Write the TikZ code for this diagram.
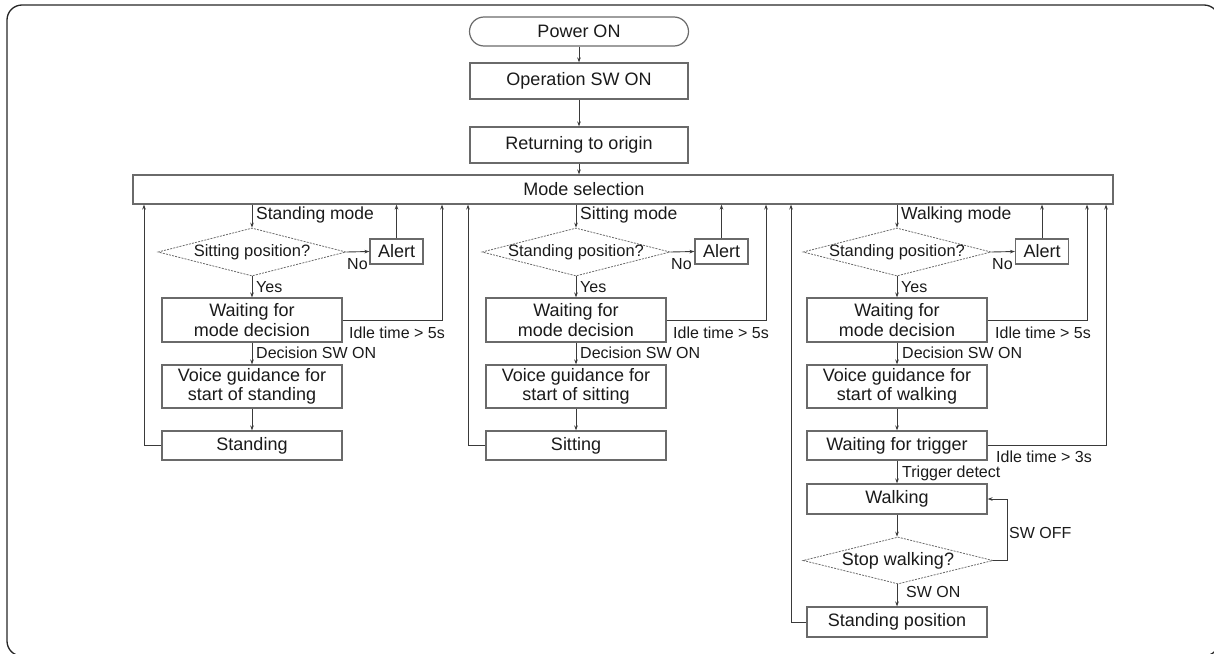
\documentclass[tikz,border=0pt]{standalone}
\usepackage{fontspec}
\setmainfont{Liberation Sans}
\usetikzlibrary{shapes.geometric,arrows.meta}
\definecolor{boxgray}{HTML}{6A6A6A}
\definecolor{linegray}{HTML}{3A3A3A}
\definecolor{txtgray}{HTML}{1A1A1A}
\begin{document}
\begin{tikzpicture}[x=1pt,y=-1pt,
  box/.style={draw=boxgray, line width=1.2pt, fill=white, inner sep=0pt, align=center,
    text=txtgray, font=\fontsize{18}{19.5}\selectfont},
  term/.style={box, rounded corners=14.5pt},
  dia/.style={diamond, draw=boxgray, dash pattern=on 2pt off 1.2pt, line width=0.8pt,
    inner sep=0pt, text=txtgray, font=\fontsize{16.5}{18}\selectfont},
  lbl/.style={anchor=west, inner sep=0pt, text=txtgray, font=\fontsize{16}{18}\selectfont},
  mlbl/.style={lbl, font=\fontsize{17.5}{19}\selectfont},
  plain/.style={inner sep=0pt, text=txtgray, font=\fontsize{18}{19.5}\selectfont},
  arr/.style={draw=linegray, line width=0.9pt, -{Stealth[length=5pt,width=3.6pt]}},
  frame/.style={draw=black!85, line width=1.3pt, rounded corners=15pt}
]
\useasboundingbox (0,0) rectangle (1214,653);
\clip (0,0) rectangle (1214,653);
\draw[frame] (7,5) rectangle (1219,656);

% top stack
\node[term, minimum width=219, minimum height=29] (pw) at (579,31.5) {Power ON};
\node[box, minimum width=218, minimum height=36] (op) at (579,81) {Operation SW ON};
\node[box, minimum width=218, minimum height=36] (ro) at (579,145) {Returning to origin};
\node[box, minimum width=980, minimum height=29] (ms) at (623,189.5) {};
\node[plain] (mst) at (584,189.5) {Mode selection};

\draw[arr] (pw) -- (op);
\draw[arr] (op) -- (ro);
\draw[arr] (ro) -- (ro.south |- ms.north);

% return-line coordinates
\coordinate (la) at (144,0);
\coordinate (ia) at (442,0);
\coordinate (lb) at (468,0);
\coordinate (ib) at (766,0);
\coordinate (lc) at (791,0);
\coordinate (ic) at (1087,0);
\coordinate (i3) at (1106,0);
\coordinate (so) at (1007,499);

% ---------- Standing column ----------
\node[dia, minimum width=188, minimum height=48] (da) at (252,252) {\makebox[0pt]{Sitting position?}};
\node[box, minimum width=53, minimum height=25] (aa) at (396.5,251.5) {Alert};
\node[box, minimum width=180, minimum height=44] (wa) at (252,320) {Waiting for\\mode decision};
\node[box, minimum width=180, minimum height=43] (va) at (252,386.5) {Voice guidance for\\start of standing};
\node[box, minimum width=180, minimum height=29] (sa) at (252,445.5) {Standing};

\draw[arr] (da.north |- ms.south) -- (da.north);
\draw[arr] (da.east) -- (aa.west);
\draw[arr] (aa.north) -- (aa.north |- ms.south);
\draw[arr] (da.south) -- (wa.north);
\draw[arr] (wa.east) -| (ia |- ms.south);
\draw[arr] (wa) -- (va);
\draw[arr] (va) -- (sa);
\draw[arr] (sa.west) -| (la |- ms.south);

\node[mlbl] (tsa) at (256,215) {Standing mode};
\node[lbl] (noa) at (347,264) {No};
\node[lbl] (yea) at (256,287) {Yes};
\node[lbl] (ida) at (349,333) {Idle time > 5s};
\node[lbl] (dea) at (256,353) {Decision SW ON};

% ---------- Sitting column ----------
\node[dia, minimum width=188, minimum height=48] (db) at (576,252) {\makebox[0pt]{Standing position?}};
\node[box, minimum width=53, minimum height=25] (ab) at (721.5,251.5) {Alert};
\node[box, minimum width=180, minimum height=44] (wb) at (576,320) {Waiting for\\mode decision};
\node[box, minimum width=180, minimum height=43] (vb) at (576,386.5) {Voice guidance for\\start of sitting};
\node[box, minimum width=180, minimum height=29] (sb) at (576,445.5) {Sitting};

\draw[arr] (db.north |- ms.south) -- (db.north);
\draw[arr] (db.east) -- (ab.west);
\draw[arr] (ab.north) -- (ab.north |- ms.south);
\draw[arr] (db.south) -- (wb.north);
\draw[arr] (wb.east) -| (ib |- ms.south);
\draw[arr] (wb) -- (vb);
\draw[arr] (vb) -- (sb);
\draw[arr] (sb.west) -| (lb |- ms.south);

\node[mlbl] (tsb) at (580,215) {Sitting mode};
\node[lbl] (nob) at (671,264) {No};
\node[lbl] (yeb) at (580,287) {Yes};
\node[lbl] (idb) at (673,333) {Idle time > 5s};
\node[lbl] (deb) at (580,353) {Decision SW ON};

% ---------- Walking column ----------
\node[dia, minimum width=188, minimum height=48] (dc) at (897,252) {\makebox[0pt]{Standing position?}};
\node[box, minimum width=53, minimum height=25] (ac) at (1042,251.5) {Alert};
\node[box, minimum width=180, minimum height=44] (wc) at (897,320) {Waiting for\\mode decision};
\node[box, minimum width=180, minimum height=43] (vc) at (897,386.5) {Voice guidance for\\start of walking};
\node[box, minimum width=180, minimum height=29] (wt) at (897,445.5) {Waiting for trigger};
\node[box, minimum width=180, minimum height=30] (wk) at (897,499) {Walking};
\node[dia, minimum width=190, minimum height=47, font=\fontsize{18}{19.5}\selectfont] (sw) at (898,560.5) {\makebox[0pt]{Stop walking?}};
\node[box, minimum width=180, minimum height=30] (sp) at (897,622) {Standing position};

\draw[arr] (dc.north |- ms.south) -- (dc.north);
\draw[arr] (dc.east) -- (ac.west);
\draw[arr] (ac.north) -- (ac.north |- ms.south);
\draw[arr] (dc.south) -- (wc.north);
\draw[arr] (wc.east) -| (ic |- ms.south);
\draw[arr] (wc) -- (vc);
\draw[arr] (vc) -- (wt);
\draw[arr] (wt.east) -| (i3 |- ms.south);
\draw[arr] (wt) -- (wk);
\draw[arr] (wk.south) -- (wk.south |- sw.north);
\draw[arr] (sw.east) -| (so) -- (wk.east);
\draw[arr] (sw.south -| sp.north) -- (sp.north);
\draw[arr] (sp.west) -| (lc |- ms.south);

\node[mlbl] (tsc) at (901,215) {Walking mode};
\node[lbl] (noc) at (992,264) {No};
\node[lbl] (yec) at (901,287) {Yes};
\node[lbl] (idc) at (995,333) {Idle time > 5s};
\node[lbl] (dec) at (902,353) {Decision SW ON};
\node[lbl] (id3) at (996,457) {Idle time > 3s};
\node[lbl] (trg) at (902,473) {Trigger detect};
\node[lbl] (swf) at (1009,533) {SW OFF};
\node[lbl] (swn) at (906,592) {SW ON};
\end{tikzpicture}
\end{document}
